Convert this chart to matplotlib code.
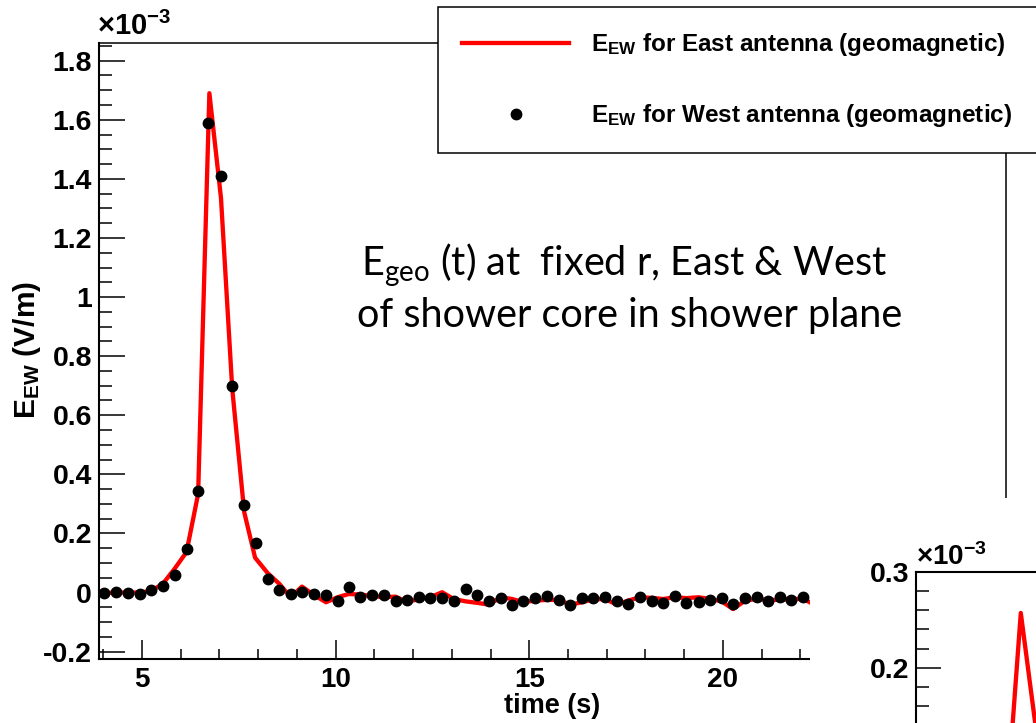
import matplotlib
matplotlib.use("Agg")
import matplotlib.pyplot as plt
from matplotlib.lines import Line2D
from matplotlib.patches import Rectangle
from matplotlib.ticker import MultipleLocator

plt.rcParams["font.family"] = ["Liberation Sans", "DejaVu Sans"]
plt.rcParams["font.weight"] = "bold"
plt.rcParams["mathtext.default"] = "regular"

# East antenna (red line), E_EW in units of 1e-3 V/m
east_t = [4.03, 4.33, 4.63, 4.94, 5.24, 5.54, 5.84, 6.15, 6.45, 6.74, 7.04, 7.33,
          7.64, 7.92, 8.25, 8.55, 8.84, 9.13, 9.44, 9.75, 10.05, 10.34, 10.64, 10.95,
          11.25, 11.55, 11.84, 12.16, 12.44, 12.75, 13.05, 13.36, 13.66, 13.96, 14.26,
          14.56, 14.85, 15.16, 15.46, 15.76, 16.06, 16.36, 16.65, 16.96, 17.26, 17.56,
          17.86, 18.16, 18.46, 18.76, 19.06, 19.37, 19.67, 19.97, 20.26, 20.58, 20.87,
          21.17, 21.47, 21.77, 22.07, 22.37]
east_v = [-0.002, 0.0, 0.0, 0.0, 0.005, 0.030, 0.080, 0.137, 0.334, 1.690, 1.335, 0.690,
          0.272, 0.118, 0.065, 0.029, -0.016, 0.020, -0.008, -0.033, -0.016, -0.005,
          -0.007, -0.012, -0.016, -0.014, -0.032, -0.022, -0.016, 0.001, -0.022, -0.030,
          -0.035, -0.041, -0.016, -0.022, -0.033, -0.027, -0.025, -0.025, -0.041, -0.033,
          -0.023, -0.022, -0.041, -0.027, -0.016, -0.018, -0.022, -0.016, -0.019, -0.016,
          -0.022, -0.030, -0.056, -0.027, -0.022, -0.025, -0.025, -0.022, -0.022, -0.041]

# West antenna (black dots)
west_t = [4.03, 4.33, 4.63, 4.94, 5.24, 5.54, 5.84, 6.15, 6.45, 6.70, 7.04, 7.33,
          7.64, 7.94, 8.25, 8.55, 8.84, 9.14, 9.44, 9.75, 10.05, 10.34, 10.64, 10.95,
          11.25, 11.55, 11.84, 12.16, 12.44, 12.75, 13.05, 13.36, 13.66, 13.96, 14.26,
          14.56, 14.85, 15.16, 15.46, 15.76, 16.06, 16.36, 16.65, 16.96, 17.26, 17.56,
          17.86, 18.16, 18.46, 18.76, 19.06, 19.37, 19.67, 19.97, 20.26, 20.58, 20.87,
          21.17, 21.47, 21.77, 22.07]
west_v = [0.000, 0.001, 0.000, -0.006, 0.008, 0.021, 0.060, 0.147, 0.344, 1.589, 1.410,
          0.700, 0.297, 0.167, 0.046, 0.010, -0.006, 0.001, -0.005, -0.007, -0.028, 0.019,
          -0.015, -0.009, -0.007, -0.028, -0.026, -0.014, -0.017, -0.018, -0.028, 0.011,
          -0.010, -0.028, -0.019, -0.043, -0.028, -0.017, -0.011, -0.025, -0.043, -0.019,
          -0.017, -0.014, -0.030, -0.040, -0.014, -0.028, -0.037, -0.012, -0.037, -0.032,
          -0.027, -0.019, -0.040, -0.019, -0.014, -0.030, -0.014, -0.027, -0.016]

y_ticks = [-0.2, 0.0, 0.2, 0.4, 0.6, 0.8, 1.0, 1.2, 1.4, 1.6, 1.8]
y_labels = ["-0.2", "0", "0.2", "0.4", "0.6", "0.8", "1", "1.2", "1.4", "1.6", "1.8"]
x_ticks = [5, 10, 15, 20]

# partly hidden second panel (bottom right)
inset_t = [7.62, 7.93, 8.48]
inset_v = [0.14, 0.257, 0.14]
inset_ticks = [0.2, 0.3]
inset_labels = ["0.2", "0.3"]

W, H = 1036, 723


def fx(px):
    return px / W


def fy(py):
    return 1 - py / H


fig = plt.figure(figsize=(W / 100, H / 100), dpi=100)

ax = fig.add_axes([fx(99), fy(658.7), fx(1006) - fx(99), fy(43) - fy(658.7)])
ax.plot(east_t, east_v, color="#ff0000", lw=3.1, zorder=2)
ax.plot(west_t, west_v, "o", color="black", ms=7.5, zorder=3)
ax.set_xlim(3.89, 27.31)
ax.set_ylim(-0.224, 1.86)
ax.set_xticks(x_ticks)
ax.set_xticklabels([str(v) for v in x_ticks])
ax.xaxis.set_minor_locator(MultipleLocator(1))
ax.set_yticks(y_ticks)
ax.set_yticklabels(y_labels)
ax.yaxis.set_minor_locator(MultipleLocator(0.05))
ax.tick_params(axis="y", which="major", direction="in", length=19, width=1.1,
               labelsize=20.5, pad=5)
ax.tick_params(axis="y", which="minor", direction="in", length=9.5, width=1.1)
ax.tick_params(axis="x", which="major", direction="in", length=13.5, width=1.1,
               labelsize=20, pad=6)
ax.tick_params(axis="x", which="minor", direction="in", length=7, width=1.1)
for side in ["left", "bottom"]:
    ax.spines[side].set_linewidth(1.5)
for side in ["top", "right"]:
    ax.spines[side].set_linewidth(1.1)
ax.text(-0.002, 1.004, "×10$^{-3}$", transform=ax.transAxes, ha="left", va="bottom",
        fontsize=21)

handles = [Line2D([], [], color="#ff0000", lw=3.1),
           Line2D([], [], ls="none", marker="o", color="black", ms=7.5)]
labels = ["E$_{EW}$ for East antenna (geomagnetic)",
          "E$_{EW}$ for West antenna (geomagnetic)"]
leg = ax.legend(handles, labels, loc="upper left",
                bbox_to_anchor=(fx(438), fy(153), 0.8, fy(7) - fy(153)),
                bbox_transform=fig.transFigure, mode="expand", fontsize=17.5,
                handlelength=4.4, handletextpad=0.9, borderpad=1.0, borderaxespad=0,
                labelspacing=1.8, fancybox=False, framealpha=1, edgecolor="black")
leg.get_frame().set_linewidth(1.1)

fig.text(fx(27), fy(350), "E$_{EW}$ (V/m)", rotation=90, ha="center", va="center",
         fontsize=21.5)
fig.text(fx(552), fy(713), "time (s)", ha="center", va="baseline", fontsize=19.5)

fig.text(fx(624), fy(265), "E$_{geo}$ (t) at  fixed r, East & West", family="Lato",
         weight="normal", fontsize=28.5, ha="center", va="center")
fig.text(fx(630), fy(315), "of shower core in shower plane", family="Lato",
         weight="normal", fontsize=28.5, ha="center", va="center")

# white pad of the second panel covering the bottom right
fig.add_artist(Rectangle((fx(810), 0), 1 - fx(810), fy(498), transform=fig.transFigure,
                         facecolor="white", edgecolor="none", zorder=1))

ins = fig.add_axes([fx(916), 0, fx(1036) - fx(916), fy(571.7)])
ins.set_zorder(2)
ins.plot(inset_t, inset_v, color="#ff0000", lw=3.1)
ins.set_xlim(4, 8.5)
ins.set_ylim(0.1424, 0.3)
ins.set_xticks([])
ins.set_yticks(inset_ticks)
ins.set_yticklabels(inset_labels)
ins.yaxis.set_minor_locator(MultipleLocator(0.02))
ins.tick_params(axis="y", which="major", direction="in", length=18, width=1.1,
                labelsize=20.5, pad=5)
ins.tick_params(axis="y", which="minor", direction="in", length=9, width=1.1)
ins.spines["left"].set_linewidth(1.5)
ins.spines["top"].set_linewidth(1.5)
ins.spines["right"].set_visible(False)
ins.spines["bottom"].set_visible(False)
ins.text(-0.002, 1.004, "×10$^{-3}$", transform=ins.transAxes, ha="left", va="bottom",
         fontsize=20)

fig.savefig("out.png", dpi=100)
